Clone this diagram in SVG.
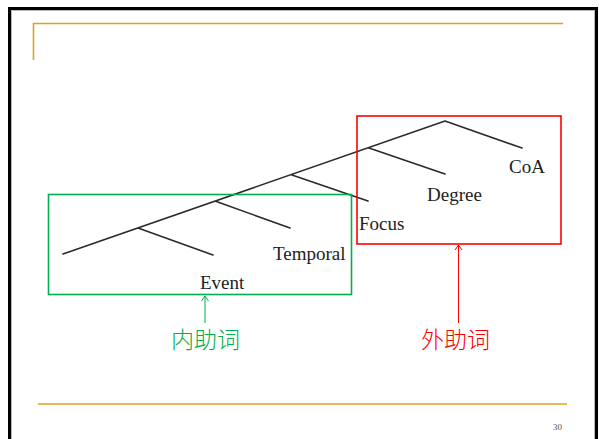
<svg xmlns="http://www.w3.org/2000/svg" width="599" height="439" viewBox="0 0 599 439">
<style>
.tree{stroke:#2a2a2a;stroke-width:1.6;fill:none;stroke-linecap:round}
.lbl{font-family:"Liberation Serif","Times New Roman",serif;font-size:19px;fill:#222}
.cjk{font-family:"Noto Sans CJK SC","Noto Sans CJK JP",sans-serif;font-size:23px;font-weight:300}
.gold{stroke:#d9a520;stroke-width:1.6;fill:none}
</style>
<rect x="0" y="0" width="599" height="439" fill="#fff"/>
<g id="frame">
<rect x="9.5" y="8.5" width="587" height="445" fill="none" stroke="#000" stroke-width="3"/>
<rect x="11.5" y="10.5" width="583" height="440" fill="none" stroke="#bbb" stroke-width="1"/>
<polyline class="gold" points="33.5,60 33.5,23.5 563,23.5"/>
<line class="gold" x1="38" y1="404" x2="567" y2="404"/>
<text x="553" y="430" style="font-family:'Liberation Serif',serif;font-size:9px;fill:#555">30</text>
</g>
<g id="connectors">
<path class="tree" d="M63,254 L445,121 M445,121 L522,148 M369,148 L445,174 M292,175 L368,201 M215,201 L290,228 M138,228 L213,255"/>
<g stroke="#00b050" stroke-width="1" fill="none">
<line x1="205" y1="323" x2="205" y2="296"/>
<polyline points="201.5,301 205,296 208.5,301"/>
</g>
<g stroke="#ff0000" stroke-width="1" fill="none">
<line x1="458.5" y1="323" x2="458.5" y2="245"/>
<polyline points="455,250 458.5,245 462,250"/>
</g>
</g>
<g id="inner-box"><rect x="48.5" y="194.5" width="303" height="100" fill="none" stroke="#00b050" stroke-width="1.6"/></g>
<g id="outer-box"><rect x="357" y="116" width="204" height="128" fill="none" stroke="#ff0000" stroke-width="1.6"/></g>
<g id="event"><text class="lbl" x="200" y="289">Event</text></g>
<g id="temporal"><text class="lbl" x="273" y="260">Temporal</text></g>
<g id="focus"><text class="lbl" x="359" y="230">Focus</text></g>
<g id="degree"><text class="lbl" x="427" y="201">Degree</text></g>
<g id="coa"><text class="lbl" x="509" y="173">CoA</text></g>
<g id="neizhuci"><text class="cjk" x="171" y="348" fill="#00b050">内助词</text></g>
<g id="waizhuci"><text class="cjk" x="421" y="348" fill="#ff0000">外助词</text></g>
</svg>
